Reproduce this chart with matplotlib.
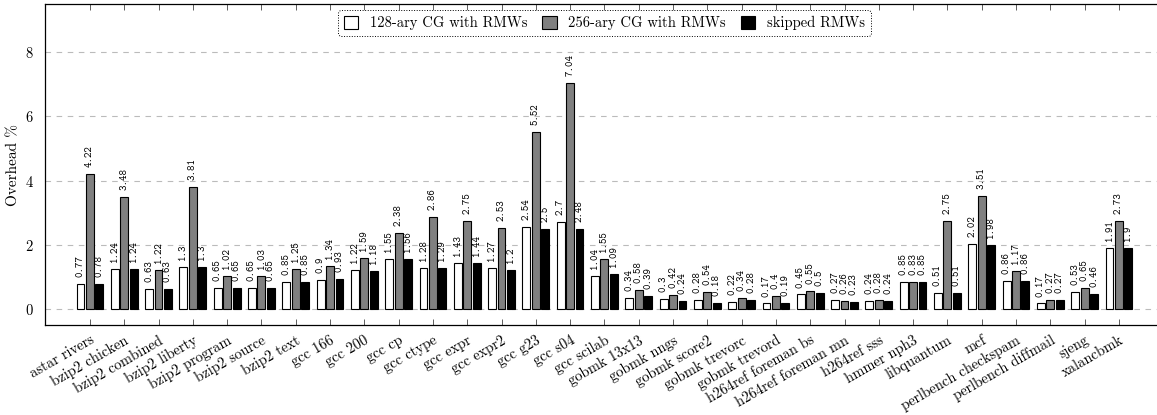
import numpy as np
import matplotlib
matplotlib.use('Agg')
import matplotlib.pyplot as plt

plt.rcParams['font.family'] = ['cmr10', 'DejaVu Serif']
plt.rcParams['axes.formatter.use_mathtext'] = True

benchmarks = ['astar rivers', 'bzip2 chicken', 'bzip2 combined', 'bzip2 liberty',
              'bzip2 program', 'bzip2 source', 'bzip2 text', 'gcc 166', 'gcc 200',
              'gcc cp', 'gcc ctype', 'gcc expr', 'gcc expr2', 'gcc g23', 'gcc s04',
              'gcc scilab', 'gobmk 13x13', 'gobmk nngs', 'gobmk score2',
              'gobmk trevorc', 'gobmk trevord', 'h264ref foreman bs',
              'h264ref foreman mn', 'h264ref sss', 'hmmer nph3', 'libquantum', 'mcf',
              'perlbench checkspam', 'perlbench diffmail', 'sjeng', 'xalancbmk']

cg128 = [0.77, 1.24, 0.63, 1.3, 0.65, 0.65, 0.85, 0.9, 1.22, 1.55, 1.28, 1.43,
         1.27, 2.54, 2.7, 1.04, 0.34, 0.3, 0.28, 0.22, 0.17, 0.45, 0.27, 0.24,
         0.85, 0.51, 2.02, 0.86, 0.17, 0.53, 1.91]
cg256 = [4.22, 3.48, 1.22, 3.81, 1.02, 1.03, 1.25, 1.34, 1.59, 2.38, 2.86, 2.75,
         2.53, 5.52, 7.04, 1.55, 0.58, 0.42, 0.54, 0.34, 0.4, 0.55, 0.26, 0.28,
         0.83, 2.75, 3.51, 1.17, 0.27, 0.65, 2.73]
skipped = [0.78, 1.24, 0.63, 1.3, 0.65, 0.65, 0.85, 0.93, 1.18, 1.56, 1.29, 1.44,
           1.2, 2.5, 2.48, 1.09, 0.39, 0.24, 0.18, 0.28, 0.19, 0.5, 0.23, 0.24,
           0.85, 0.51, 1.98, 0.86, 0.27, 0.46, 1.9]

series = [
    ('128-ary CG with RMWs', cg128, 'white'),
    ('256-ary CG with RMWs', cg256, '#808080'),
    ('skipped RMWs', skipped, 'black'),
]

fig = plt.figure(figsize=(11.57, 4.15), dpi=100)
# right edge runs past the canvas, so the right spine is cut off
ax = fig.add_axes([0.0389, 0.217, 0.967, 0.773])

x = np.arange(len(benchmarks))
width = 0.23
step = 0.275

for i, (name, vals, col) in enumerate(series):
    pos = x + (i - 1) * step
    bars = ax.bar(pos, vals, width, color=col, edgecolor='black',
                  linewidth=0.8, label=name, zorder=3)
    # value printed above each bar
    for b, v in zip(bars, vals):
        ax.annotate(f'{v:g}', (b.get_x() + b.get_width() / 2, v),
                    xytext=(0, 5), textcoords='offset points',
                    rotation=90, ha='center', va='bottom', fontsize=7.5,
                    family='cmtt10', zorder=4)

ax.set_xlim(-1.31, len(benchmarks) - 1 + 1.31)
ax.set_ylim(-0.5, 9.5)
ax.set_yticks([0, 2, 4, 6, 8])
ax.set_xticks(x)
ax.set_xticklabels(benchmarks, rotation=30, ha='right', rotation_mode='anchor',
                   fontsize=10.5)
ax.tick_params(axis='x', direction='in', top=True, length=4, width=0.6,
               color='#444444', pad=6)
ax.tick_params(axis='y', direction='in', length=0, labelsize=10.5, pad=8)
ax.grid(axis='y', linestyle=(0, (5, 5)), color='#bbbbbb', linewidth=0.8, zorder=0)
ax.set_ylabel('Overhead %', fontsize=11, labelpad=3)
ax.spines['right'].set_visible(False)
for s in ['left', 'bottom', 'top']:
    ax.spines[s].set_linewidth(0.9)

leg = ax.legend(loc='upper center', ncol=3, fontsize=10.5, frameon=True,
                fancybox=True, handlelength=1.0, handleheight=1.0,
                handletextpad=0.8, columnspacing=1.0,
                borderaxespad=0.4, bbox_to_anchor=(0.5, 1.0))
frame = leg.get_frame()
frame.set_edgecolor('black')
frame.set_linestyle(':')
frame.set_linewidth(0.7)
frame.set_alpha(1)

fig.savefig('out.png', dpi=100)
